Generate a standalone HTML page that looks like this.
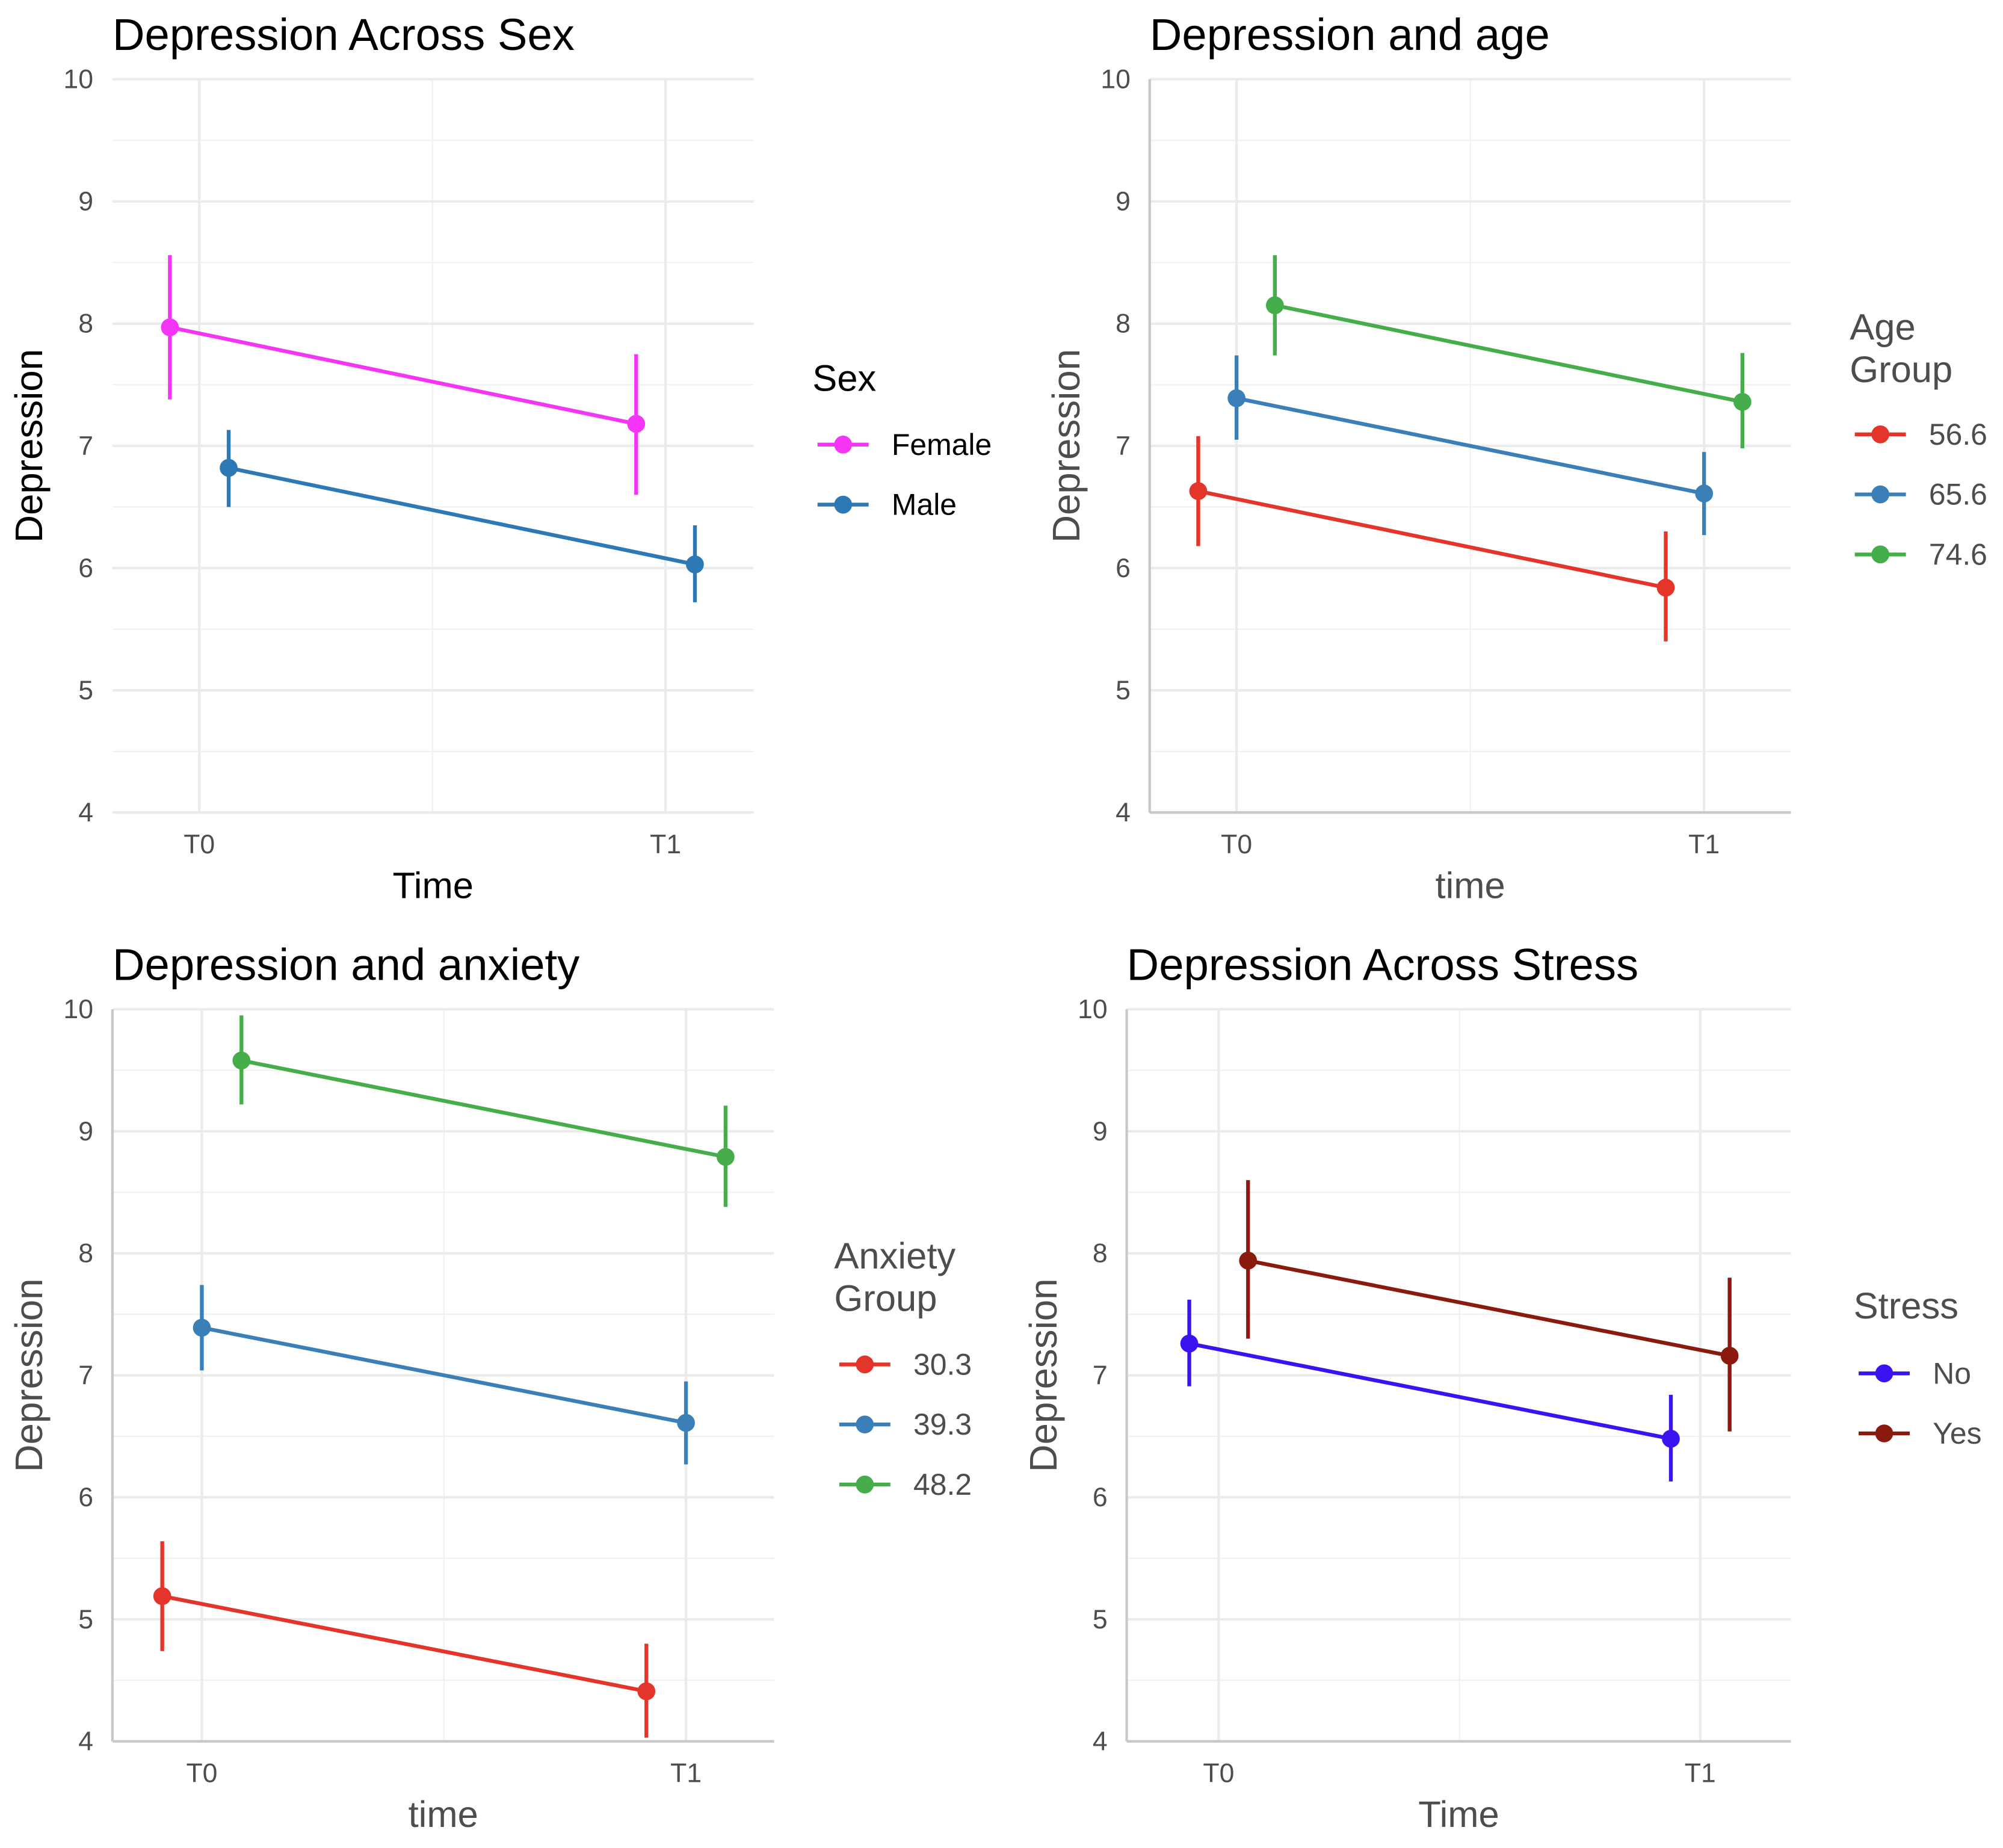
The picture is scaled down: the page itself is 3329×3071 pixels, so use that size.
<!DOCTYPE html>
<html><head><meta charset="utf-8"><style>
html,body{margin:0;padding:0;background:#fff}
svg{display:block;font-family:"Liberation Sans",Arial,sans-serif}
</style></head><body>
<svg id="chart" width="3329" height="3071" viewBox="0 0 1568 1446.5" xmlns="http://www.w3.org/2000/svg"></svg>
<script>
// ---- data ----
const timeCategories = ["T0","T1"];
const yTicks = [4,5,6,7,8,9,10];

const sexGroups = ["Female","Male"];
const sexMeans = [[7.97,7.18],[6.82,6.03]];
const sexLow = [[7.38,6.60],[6.50,5.72]];
const sexHigh = [[8.56,7.75],[7.13,6.35]];

const ageGroups = ["56.6","65.6","74.6"];
const ageMeans = [[6.63,5.84],[7.39,6.61],[8.15,7.36]];
const ageLow = [[6.18,5.40],[7.05,6.27],[7.74,6.98]];
const ageHigh = [[7.08,6.30],[7.74,6.95],[8.56,7.76]];

const anxGroups = ["30.3","39.3","48.2"];
const anxMeans = [[5.19,4.41],[7.39,6.61],[9.58,8.79]];
const anxLow = [[4.74,4.03],[7.04,6.27],[9.22,8.38]];
const anxHigh = [[5.64,4.80],[7.74,6.95],[9.95,9.21]];

const stressGroups = ["No","Yes"];
const stressMeans = [[7.26,6.48],[7.94,7.16]];
const stressLow = [[6.91,6.13],[7.30,6.54]];
const stressHigh = [[7.62,6.84],[8.60,7.80]];

const svg = document.getElementById('chart');
const NS = "http://www.w3.org/2000/svg";
function el(tag, attrs, parent){
  const e = document.createElementNS(NS, tag);
  for (const k in attrs) e.setAttribute(k, attrs[k]);
  (parent||svg).appendChild(e);
  return e;
}

function panel(cfg){
  const g = el('g', {});
  
  
  const {x0,x1,yTop,yBot,t0,t1} = cfg;
  const ys = v => yBot - (v-4)/(10-4)*(yBot-yTop);
  const xs = t => t0 + t*(t1-t0);
  for (let v=4.5; v<10; v+=1){
    const l = el('line',{x1:x0,x2:x1,y1:ys(v),y2:ys(v),stroke:'#f0f0f0','stroke-width':1}, g);
    
    
  }
  const mx = el('line',{x1:xs(0.5),x2:xs(0.5),y1:yTop,y2:yBot,stroke:'#f0f0f0','stroke-width':1}, g);
  
  
  yTicks.forEach(v=>{
    const l = el('line',{x1:x0,x2:x1,y1:ys(v),y2:ys(v),stroke:'#ebebeb','stroke-width':2}, g);
    
    
    const t = el('text',{x:x0-15,y:ys(v)+7,'text-anchor':'end','font-size':21,fill:'#4d4d4d'}, g);
    t.textContent = v;
    
    
  });
  timeCategories.forEach((c,i)=>{
    const l = el('line',{x1:xs(i),x2:xs(i),y1:yTop,y2:yBot,stroke:'#ebebeb','stroke-width':2}, g);
    
    
    const t = el('text',{x:xs(i),y:yBot+32,'text-anchor':'middle','font-size':21,fill:'#4d4d4d'}, g);
    t.textContent = c;
    
    
  });
  if (cfg.axisLines){
    const a1 = el('line',{x1:x0,x2:x0,y1:yTop,y2:yBot,stroke:'#c8c8c8','stroke-width':2}, g);
    
    
    const a2 = el('line',{x1:x0,x2:x1,y1:yBot,y2:yBot,stroke:'#c8c8c8','stroke-width':2}, g);
    
    
  }
  const title = el('text',{x:x0,y:yTop-23,'font-size':35,fill:'#000'}, g);
  title.textContent = cfg.title;
  
  
  const yt = el('text',{x:0,y:0,'font-size':30,fill:cfg.axisColor,'text-anchor':'middle',transform:`translate(${x0-55},${(yTop+yBot)/2}) rotate(-90)`}, g);
  yt.textContent = 'Depression';
  
  
  const xt = el('text',{x:(x0+x1)/2,y:yBot+67,'font-size':29,fill:cfg.axisColor,'text-anchor':'middle'}, g);
  xt.textContent = cfg.xTitle;
  
  
  const n = cfg.groups.length;
  cfg.groups.forEach((grp,gi)=>{
    const off = (gi-(n-1)/2)*cfg.dodge;
    const col = cfg.colors[gi];
    const pts = cfg.means[gi].map((m,ti)=>[xs(ti)+off, ys(m)]);
    const ln = el('line',{x1:pts[0][0],y1:pts[0][1],x2:pts[1][0],y2:pts[1][1],stroke:col,'stroke-width':3}, g);
    
    
    cfg.means[gi].forEach((m,ti)=>{
      const eb = el('line',{x1:pts[ti][0],x2:pts[ti][0],y1:ys(cfg.low[gi][ti]),y2:ys(cfg.high[gi][ti]),stroke:col,'stroke-width':3}, g);
      
      
      const p = el('circle',{cx:pts[ti][0],cy:pts[ti][1],r:7,fill:col}, g);
      
      
    });
    const ly = cfg.legY + gi*47;
    const kl = el('line',{x1:cfg.legX+4,x2:cfg.legX+44,y1:ly,y2:ly,stroke:col,'stroke-width':3}, g);
    
    
    const kc = el('circle',{cx:cfg.legX+24,cy:ly,r:7,fill:col}, g);
    
    
    const lt = el('text',{x:cfg.legX+62,y:ly+8,'font-size':23.5,fill:cfg.legLabelColor}, g);
    lt.textContent = grp;
    
    
  });
  cfg.legTitle.forEach((s,i)=>{
    const t = el('text',{x:cfg.legX,y:cfg.legTitleY+i*33,'font-size':29,fill:cfg.legTitleColor}, g);
    t.textContent = s;
    
    
  });
}

panel({name:'panel-sex',title:'Depression Across Sex',xTitle:'Time',x0:88,x1:590,yTop:62,yBot:636,t0:156,t1:521,dodge:46,
  groups:sexGroups,means:sexMeans,low:sexLow,high:sexHigh,colors:['#f535f5','#2d79b5'],
  axisLines:false,axisColor:'#000',legX:636,legY:348,legTitle:['Sex'],legTitleY:306,legTitleColor:'#000',legLabelColor:'#000'});
panel({name:'panel-age',title:'Depression and age',xTitle:'time',x0:900,x1:1402,yTop:62,yBot:636,t0:968,t1:1334,dodge:30,
  groups:ageGroups,means:ageMeans,low:ageLow,high:ageHigh,colors:['#e4352b','#3a7fb8','#45ad4a'],
  axisLines:true,axisColor:'#4d4d4d',legX:1448,legY:340,legTitle:['Age','Group'],legTitleY:266,legTitleColor:'#4d4d4d',legLabelColor:'#4d4d4d'});
panel({name:'panel-anxiety',title:'Depression and anxiety',xTitle:'time',x0:88,x1:606,yTop:790,yBot:1363,t0:158,t1:537,dodge:31,
  groups:anxGroups,means:anxMeans,low:anxLow,high:anxHigh,colors:['#e4352b','#3a7fb8','#45ad4a'],
  axisLines:true,axisColor:'#4d4d4d',legX:653,legY:1068,legTitle:['Anxiety','Group'],legTitleY:993,legTitleColor:'#4d4d4d',legLabelColor:'#4d4d4d'});
panel({name:'panel-stress',title:'Depression Across Stress',xTitle:'Time',x0:882,x1:1402,yTop:790,yBot:1363,t0:954,t1:1331,dodge:46,
  groups:stressGroups,means:stressMeans,low:stressLow,high:stressHigh,colors:['#3a13f0','#8b1a0e'],
  axisLines:true,axisColor:'#4d4d4d',legX:1451,legY:1075,legTitle:['Stress'],legTitleY:1032,legTitleColor:'#4d4d4d',legLabelColor:'#4d4d4d'});
</script>
</body></html>
